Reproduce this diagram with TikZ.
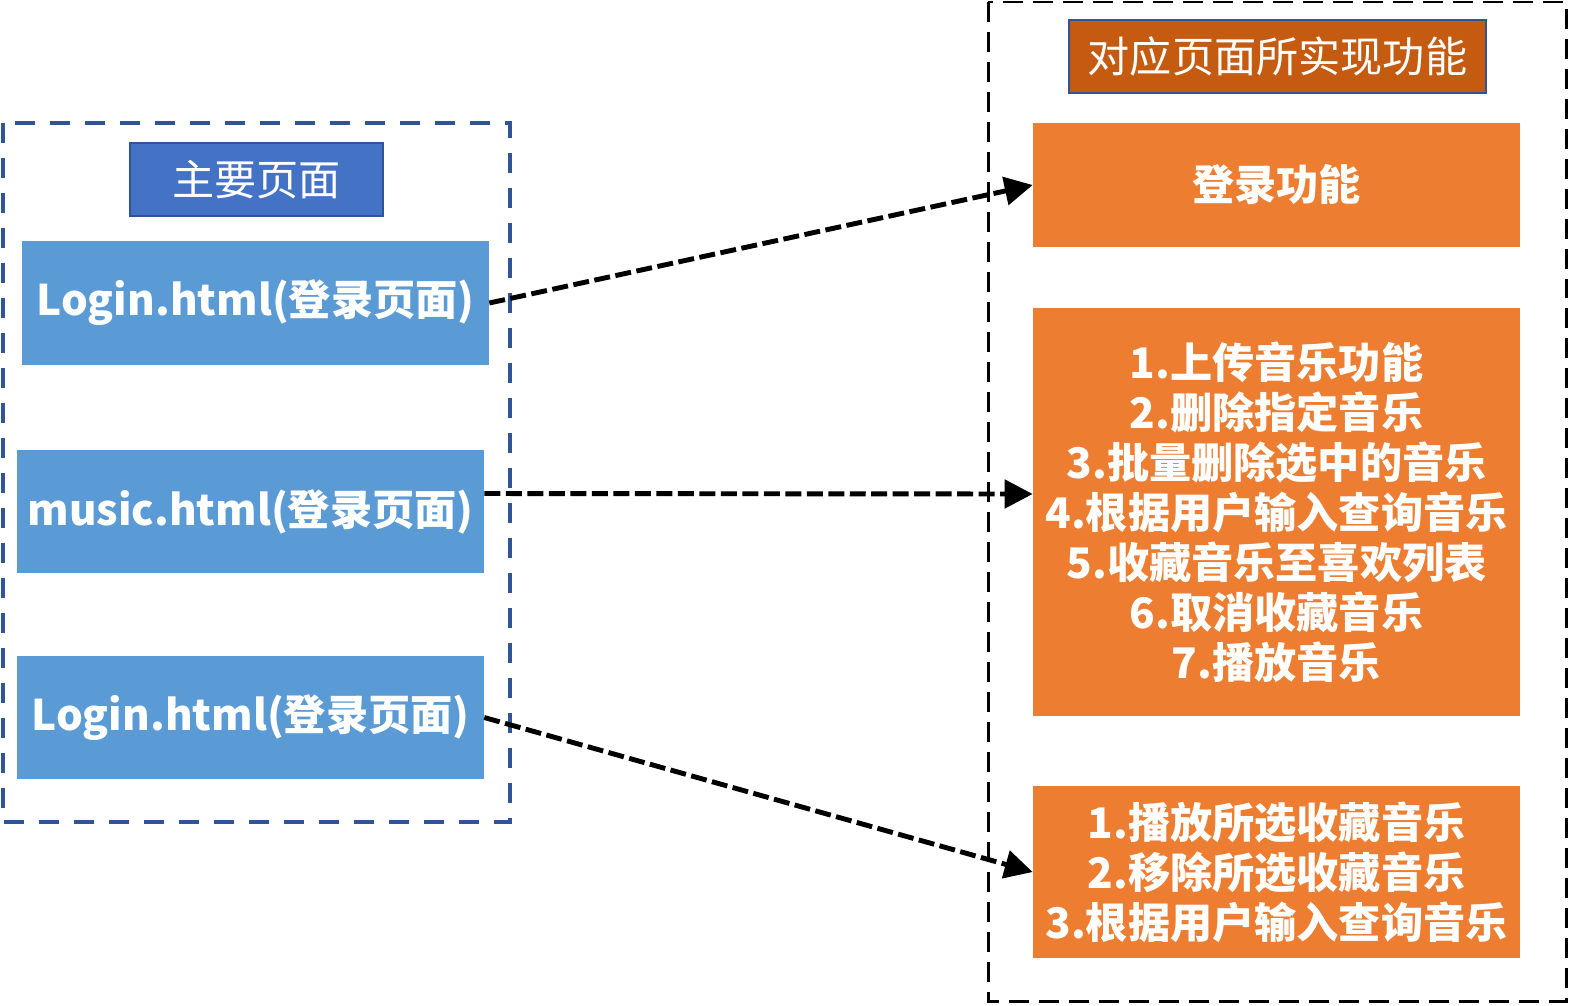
\documentclass[tikz,border=0pt]{standalone}
\usepackage{fontspec}
\setmainfont{Noto Sans CJK SC}
\usetikzlibrary{arrows.meta}
\definecolor{pageblue}{HTML}{5B9BD5}
\definecolor{titleblue}{HTML}{4472C4}
\definecolor{frameblue}{HTML}{2F5597}
\definecolor{funcorange}{HTML}{ED7D31}
\definecolor{titleorange}{HTML}{C55A11}
\begin{document}
\begin{tikzpicture}[x=0.02cm, y=-0.02cm, line join=miter,
		box/.style={inner sep=0pt, align=center, text=white, font=\fontsize{24}{28.5}\selectfont\bfseries},
		pagebox/.style={box, fill=pageblue, minimum width=9.34cm, minimum height=2.47cm},
		funcbox/.style={box, fill=funcorange, minimum width=9.74cm},
		headbox/.style={box, draw=frameblue, line width=1pt, minimum height=1.46cm, font=\fontsize{24}{28.5}\selectfont},
		link/.style={line width=2.8pt, dash pattern=on 0.32cm off 0.11cm, -{Triangle[length=0.56cm,width=0.56cm]}}]
	\useasboundingbox (0,0) rectangle (1571,1005);
	% frames
	\draw[frameblue, line width=2.3pt, dash pattern=on 0.4cm off 0.3cm] (3,123) rectangle (510,822);
	\draw[black, line width=1.7pt, dash pattern=on 0.4cm off 0.2cm] (988,2) rectangle (1566,1001);
	% pages
	\node[headbox, fill=titleblue, minimum width=5.06cm] (main) at (256.5,179.5) {主要页面};
	\node[pagebox] (login) at (255.5,303) {Login.html(登录页面)};
	\node[pagebox] (music) at (250.5,511.5) {music.html(登录页面)};
	\node[pagebox] (collect) at (250.5,717.5) {Login.html(登录页面)};
	% functions
	\node[headbox, fill=titleorange, minimum width=8.34cm] (func) at (1277.5,56.5) {对应页面所实现功能};
	\node[funcbox, minimum height=2.48cm] (flogin) at (1276.5,185) {登录功能};
	\node[funcbox, minimum height=8.16cm] (fmusic) at (1276.5,512) {1.上传音乐功能\\2.删除指定音乐\\3.批量删除选中的音乐\\4.根据用户输入查询音乐\\5.收藏音乐至喜欢列表\\6.取消收藏音乐\\7.播放音乐};
	\node[funcbox, minimum height=3.44cm] (fcollect) at (1276.5,872) {1.播放所选收藏音乐\\2.移除所选收藏音乐\\3.根据用户输入查询音乐};
	% links
	\draw[link] (login.east) -- (flogin.west);
	\draw[link] ([yshift=0.36cm]music.east) -- ([yshift=0.36cm]fmusic.west);
	\draw[link] (collect.east) -- (fcollect.west);
\end{tikzpicture}
\end{document}
